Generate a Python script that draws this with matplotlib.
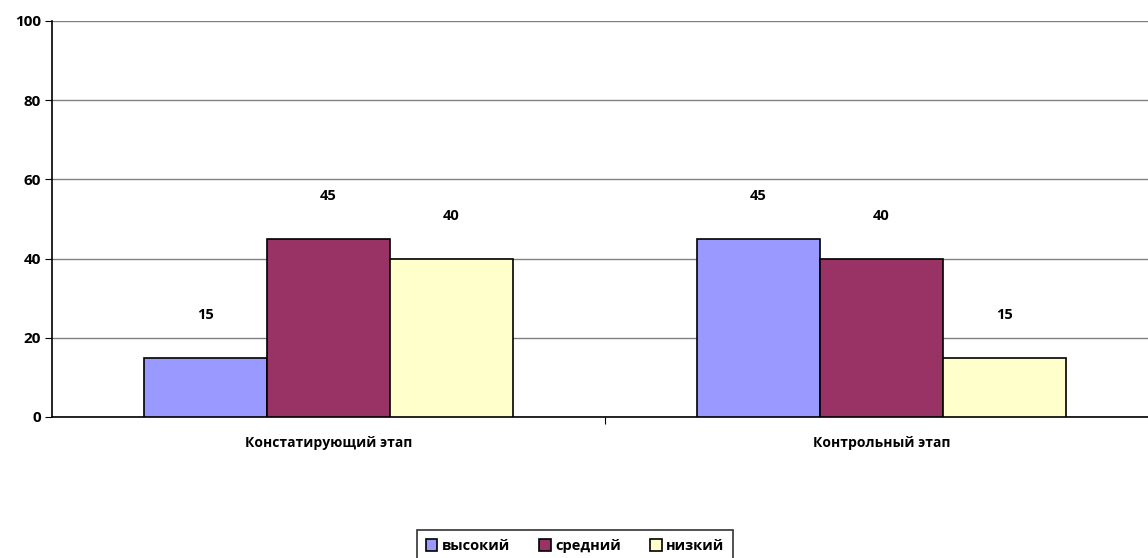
import matplotlib.pyplot as plt
import numpy as np

plt.rcParams['font.family'] = ['Open Sans', 'DejaVu Sans']
plt.rcParams['font.weight'] = 'bold'

stages = ["Констатирующий этап", "Контрольный этап"]
levels = ["высокий", "средний", "низкий"]
vysokiy = [15, 45]
sredniy = [45, 40]
nizkiy = [40, 15]
colors = ["#9999FF", "#993366", "#FFFFCC"]

fig = plt.figure(figsize=(11.48, 5.58), dpi=100)
ax = fig.add_axes([52/1148, 141/558, 1106/1148, 396/558])

x = np.arange(len(stages))
w = 0.2224
for i, (vals, c, lab) in enumerate(zip([vysokiy, sredniy, nizkiy], colors, levels)):
    pos = x + (i - 1) * w
    ax.bar(pos, vals, w, color=c, edgecolor="black", linewidth=1.2, label=lab, zorder=3)
    for p, v in zip(pos, vals):
        ax.text(p, v + 9, str(v), ha="center", va="bottom", fontsize=10.5, fontweight="bold")

ax.set_xlim(-0.5, 1.5)
ax.set_ylim(0, 100)
ax.set_yticks([0, 20, 40, 60, 80, 100])
ax.yaxis.grid(True, color="#808080", linewidth=1.0, zorder=0)
ax.set_axisbelow(True)
ax.set_xticks([0.5], minor=False)
ax.set_xticks(x, minor=True)
ax.set_xticklabels([""])
ax.set_xticklabels(stages, minor=True)
ax.tick_params(axis="x", which="minor", length=0, pad=14, labelsize=10)
ax.tick_params(axis="x", which="major", length=5, direction="out")
ax.tick_params(axis="y", length=5, direction="out", labelsize=11, pad=3)
for s in ["top", "right"]:
    ax.spines[s].set_visible(False)
for s in ["left", "bottom"]:
    ax.spines[s].set_linewidth(1.2)

leg = fig.legend(loc="upper center", bbox_to_anchor=(0.501, 35/558), ncol=3,
                 fontsize=10.5, frameon=True, fancybox=False, edgecolor="black",
                 handlelength=0.8, handleheight=0.8, handletextpad=0.3,
                 columnspacing=2.0, borderpad=0.6)
leg.get_frame().set_linewidth(1.2)

fig.savefig("out.png", dpi=100)
